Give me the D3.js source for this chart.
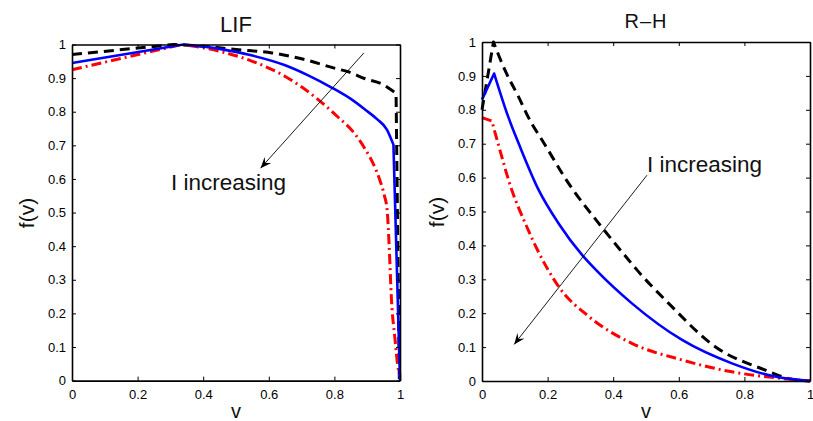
<!DOCTYPE html>
<html>
<head>
<meta charset="utf-8">
<script src="https://cdn.jsdelivr.net/npm/d3@7"></script>
<style>
  html, body { margin: 0; padding: 0; background: #fff; }
  svg { display: block; font-family: "Liberation Sans", Arial, Helvetica, sans-serif; }
</style>
</head>
<body>
<svg id="chart" width="813" height="421"></svg>
<script>
// ---- LIF panel: f(v) for three input currents (black < blue < red) ----
const lifBlackV = [0, 0.31, 0.40, 0.50, 0.61, 0.71, 0.81, 0.838, 0.894, 0.95, 0.976, 0.988, 0.998];
const lifBlackF = [0.970, 1.000, 0.995, 0.985, 0.975, 0.955, 0.927, 0.920, 0.898, 0.880, 0.863, 0.855, 0.0];

const lifBlueV = [0, 0.34, 0.45, 0.55, 0.65, 0.72, 0.793, 0.85, 0.894, 0.93, 0.96, 0.98, 1.0];
const lifBlueF = [0.945, 1.000, 0.987, 0.967, 0.938, 0.908, 0.871, 0.838, 0.806, 0.778, 0.747, 0.702, 0.0];

const lifRedV = [0, 0.335, 0.45, 0.55, 0.65, 0.757, 0.81, 0.864, 0.893, 0.92, 0.939, 0.952, 0.961, 0.967, 0.974, 0.984, 0.995, 1.0];
const lifRedF = [0.925, 1.000, 0.980, 0.950, 0.905, 0.831, 0.785, 0.732, 0.690, 0.642, 0.595, 0.552, 0.505, 0.400, 0.240, 0.131, 0.032, 0.012];

// ---- R–H panel ----
const rhBlackV = [0, 0.035, 0.069, 0.11, 0.15, 0.183, 0.264, 0.356, 0.447, 0.473, 0.569, 0.711, 0.864, 0.935, 1.0];
const rhBlackF = [0.80, 1.000, 0.919, 0.841, 0.762, 0.711, 0.583, 0.465, 0.357, 0.327, 0.229, 0.101, 0.032, 0.007, 0.0];

const rhBlueV = [0, 0.037, 0.079, 0.115, 0.173, 0.234, 0.305, 0.351, 0.457, 0.61, 0.762, 0.893, 1.0];
const rhBlueF = [0.83, 0.907, 0.782, 0.693, 0.563, 0.464, 0.372, 0.324, 0.229, 0.121, 0.052, 0.013, 0.0];

const rhRedV = [0, 0.03, 0.046, 0.091, 0.132, 0.17, 0.234, 0.326, 0.457, 0.61, 0.762, 0.91, 1.0];
const rhRedF = [0.777, 0.767, 0.711, 0.563, 0.465, 0.385, 0.278, 0.190, 0.111, 0.062, 0.027, 0.008, 0.0];

// axis ticks
const xTicks = [0, 0.2, 0.4, 0.6, 0.8, 1];
const yTicks = [0, 0.1, 0.2, 0.3, 0.4, 0.5, 0.6, 0.7, 0.8, 0.9, 1];

const titles = ["LIF", "R\u2013H"];
const annotationText = "I increasing";

// ---- layout ----
const svg = d3.select("#chart");
svg.append("rect").attr("width", 813).attr("height", 421).attr("fill", "#fff");

// each series: straight rise to the peak (index `peak`), smooth fall,
// and an optional straight end segment starting at index `knee`
const panels = [
  { left: 72, right: 400, top: 44.5, bottom: 380.6, title: titles[0], titleSize: 22, titleY: 32, titleSpacing: 0,
    series: [
      { v: lifBlackV, f: lifBlackF, peak: 1, knee: 11, color: "#000", dash: "10,6", width: 3 },
      { v: lifRedV, f: lifRedF, peak: 1, knee: null, color: "#ff0000", dash: "10,4,2,4", width: 3 },
      { v: lifBlueV, f: lifBlueF, peak: 1, knee: 11, color: "#0000ff", dash: null, width: 2.6 }
    ],
    arrow: { x1: 0.89, y1: 0.975, x2: 0.575, y2: 0.632 },
    label: { x: 171, y: 190 },
    ylab: { x: 27, y: 213 }
  },
  { left: 482, right: 810, top: 42, bottom: 381, title: titles[1], titleSize: 20, titleY: 27.5, titleSpacing: 1,
    series: [
      { v: rhBlackV, f: rhBlackF, peak: 1, knee: null, color: "#000", dash: "10,6", width: 3 },
      { v: rhRedV, f: rhRedF, peak: 1, knee: null, color: "#ff0000", dash: "10,4,2,4", width: 3 },
      { v: rhBlueV, f: rhBlueF, peak: 1, knee: null, color: "#0000ff", dash: null, width: 2.6 }
    ],
    arrow: { x1: 0.503, y1: 0.607, x2: 0.098, y2: 0.108 },
    label: { x: 647, y: 172 },
    ylab: { x: 437, y: 212 }
  }
];

// arrow head marker
svg.append("defs").append("marker")
  .attr("id", "head")
  .attr("viewBox", "-12 -6 14 12")
  .attr("refX", 0).attr("refY", 0)
  .attr("markerWidth", 14).attr("markerHeight", 12)
  .attr("markerUnits", "userSpaceOnUse")
  .attr("orient", "auto")
  .append("path")
  .attr("d", "M0,0 L-11,-4.5 L-7,0 L-11,4.5 Z")
  .attr("fill", "#000");

const fmt = d => d3.format("~g")(+d.toFixed(2));

panels.forEach(p => {
  const x = d3.scaleLinear().domain([0, 1]).range([p.left, p.right]);
  const y = d3.scaleLinear().domain([0, 1]).range([p.bottom, p.top]);
  const g = svg.append("g");

  // curves
  const straight = d3.line().x(d => x(d[0])).y(d => y(d[1]));
  const smooth = d3.line().x(d => x(d[0])).y(d => y(d[1])).curve(d3.curveMonotoneX);
  const plot = g.append("g");
  p.series.forEach(s => {
    const pts = s.v.map((v, i) => [v, s.f[i]]);
    const end = s.knee == null ? pts.length - 1 : s.knee;
    let d = straight(pts.slice(0, s.peak + 1));
    d += smooth(pts.slice(s.peak, end + 1)).replace(/^M/, "L");
    if (end < pts.length - 1) d += straight(pts.slice(end)).replace(/^M/, "L");
    plot.append("path")
      .attr("d", d)
      .attr("fill", "none")
      .attr("stroke", s.color)
      .attr("stroke-width", s.width)
      .attr("stroke-dasharray", s.dash)
      .attr("stroke-linejoin", "round");
  });

  // axes box with inward ticks
  const axStyle = sel => {
    sel.attr("font-size", 13).attr("font-family", "'Liberation Sans', Arial, sans-serif");
    sel.selectAll("path.domain").attr("stroke", "#000").attr("stroke-width", 1.6);
    sel.selectAll(".tick line").attr("stroke", "#000").attr("stroke-width", 1);
    sel.selectAll(".tick text").attr("fill", "#000");
  };
  g.append("g").attr("transform", `translate(0,${p.bottom})`)
    .call(d3.axisBottom(x).tickValues(xTicks).tickSize(-4).tickSizeOuter(0).tickPadding(9).tickFormat(fmt))
    .call(axStyle);
  g.append("g").attr("transform", `translate(0,${p.top})`)
    .call(d3.axisTop(x).tickValues(xTicks).tickSize(-4).tickSizeOuter(0).tickFormat(""))
    .call(axStyle);
  g.append("g").attr("transform", `translate(${p.left},0)`)
    .call(d3.axisLeft(y).tickValues(yTicks).tickSize(-4).tickSizeOuter(0).tickPadding(6).tickFormat(fmt))
    .call(axStyle);
  g.append("g").attr("transform", `translate(${p.right},0)`)
    .call(d3.axisRight(y).tickValues(yTicks).tickSize(-4).tickSizeOuter(0).tickFormat(""))
    .call(axStyle);

  // title
  g.append("text")
    .attr("x", (p.left + p.right) / 2).attr("y", p.titleY)
    .attr("text-anchor", "middle")
    .attr("font-size", p.titleSize)
    .attr("letter-spacing", p.titleSpacing)
    .attr("fill", "#111")
    .text(p.title);

  // axis labels
  g.append("text")
    .attr("x", (p.left + p.right) / 2).attr("y", 418)
    .attr("text-anchor", "middle")
    .attr("font-size", 20)
    .attr("fill", "#111")
    .text("v");
  g.append("text")
    .attr("transform", `translate(${p.ylab.x},${p.ylab.y}) rotate(-90)`)
    .attr("text-anchor", "middle")
    .attr("dy", "0.35em")
    .attr("font-size", 21)
    .attr("fill", "#111")
    .text("f(v)");

  // annotation arrow and text
  g.append("line")
    .attr("x1", x(p.arrow.x1)).attr("y1", y(p.arrow.y1))
    .attr("x2", x(p.arrow.x2)).attr("y2", y(p.arrow.y2))
    .attr("stroke", "#000").attr("stroke-width", 0.9)
    .attr("marker-end", "url(#head)");
  g.append("text")
    .attr("x", p.label.x).attr("y", p.label.y)
    .attr("font-size", 22.5)
    .attr("fill", "#111")
    .text(annotationText);
});
</script>
</body>
</html>
